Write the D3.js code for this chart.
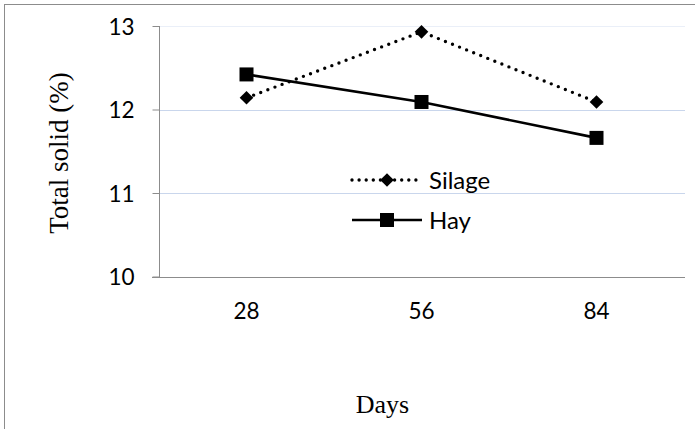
<!DOCTYPE html>
<html>
<head>
<meta charset="utf-8">
<script src="https://cdn.jsdelivr.net/npm/d3@7"></script>
<style>
    body { margin: 0; background: #fff; }
    svg { display: block; }
    .tick text { font-family: Lato, "Noto Sans", sans-serif; font-size: 22.5px; fill: #000; }
    .legend text { font-family: Lato, "Noto Sans", sans-serif; font-size: 24px; fill: #000; }
    .title { font-family: "Liberation Serif", "Times New Roman", serif; font-size: 26px; fill: #000; }
</style>
</head>
<body>
<div id="chart"></div>
<script>
// data
const days = ["28", "56", "84"];
const silage = [12.14, 12.93, 12.09];
const hay = [12.42, 12.09, 11.66];
const yTicks = [10, 11, 12, 13];
const seriesNames = ["Silage", "Hay"];

const width = 695, height = 429;
const plotLeft = 159, plotRight = 685, plotTop = 26, plotBottom = 276.5;

let svg = d3.select("#chart")
    .append("svg")
    .attr("width", width)
    .attr("height", height);

// outer frame (cut off at right and bottom)
svg.append("rect")
    .attr("x", 4.5)
    .attr("y", 4.5)
    .attr("width", width + 20)
    .attr("height", height + 20)
    .attr("fill", "none")
    .attr("stroke", "#8c8c8c")
    .attr("stroke-width", 1);

let x = d3.scaleBand()
    .domain(days)
    .range([plotLeft, plotRight - 1]);

let y = d3.scaleLinear()
    .domain([10, 13])
    .range([plotBottom, plotTop]);

let cx = d => x(d) + x.bandwidth() / 2;

//gridlines
svg.append("g")
    .selectAll("line")
    .data(yTicks.filter(d => d > 10))
    .enter()
    .append("line")
    .attr("x1", plotLeft)
    .attr("x2", plotRight)
    .attr("y1", d => Math.round(y(d)) + 0.5)
    .attr("y2", d => Math.round(y(d)) + 0.5)
    .attr("stroke", d => d === 13 ? "#eaeff8" : "#c9d6ec")
    .attr("stroke-width", 1);

//y axis
let yAxis = svg.append("g")
    .attr("transform", "translate(" + (plotLeft + 0.5) + ",0)")
    .call(d3.axisLeft(y).tickValues(yTicks).tickSize(7).tickPadding(18).tickFormat(d3.format("d")));
yAxis.select(".domain").attr("stroke", "#8c8c8c").attr("d", "M0," + plotTop + "V" + (Math.round(plotBottom) + 0.5));
yAxis.selectAll(".tick line").attr("stroke", "#8c8c8c");
yAxis.selectAll(".tick text").attr("dy", "0.36em");

//x axis
let xAxis = svg.append("g")
    .attr("transform", "translate(0," + (Math.round(plotBottom) + 0.5) + ")")
    .call(d3.axisBottom(x).tickSize(0).tickPadding(26));
xAxis.select(".domain").attr("stroke", "#8c8c8c").attr("d", "M" + (plotLeft - 7) + ",0H" + plotRight);

//lines
let line = d3.line()
    .x((d, i) => cx(days[i]))
    .y(d => y(d));

svg.append("path")
    .datum(hay)
    .attr("d", line)
    .attr("fill", "none")
    .attr("stroke", "#000")
    .attr("stroke-width", 2.6);

svg.append("path")
    .datum(silage)
    .attr("d", line)
    .attr("fill", "none")
    .attr("stroke", "#000")
    .attr("stroke-width", 3.4)
    .attr("stroke-linecap", "round")
    .attr("stroke-dasharray", "0 7.6");

//markers
const sq = 14, dm = 6.8;
let diamond = (px, py) => "M" + px + "," + (py - dm) + "L" + (px + dm) + "," + py +
    "L" + px + "," + (py + dm) + "L" + (px - dm) + "," + py + "Z";

svg.append("g")
    .selectAll("rect")
    .data(hay)
    .enter()
    .append("rect")
    .attr("x", (d, i) => cx(days[i]) - sq / 2)
    .attr("y", d => y(d) - sq / 2)
    .attr("width", sq)
    .attr("height", sq)
    .attr("fill", "#000");

svg.append("g")
    .selectAll("path")
    .data(silage)
    .enter()
    .append("path")
    .attr("d", (d, i) => diamond(cx(days[i]), y(d)))
    .attr("fill", "#000");

//legend
let legend = svg.append("g").attr("class", "legend");
let lx1 = 352, lx2 = 422, lmid = 387;
let legendY = [180, 220];

legend.append("line")
    .attr("x1", lx1).attr("x2", lx2)
    .attr("y1", legendY[0]).attr("y2", legendY[0])
    .attr("stroke", "#000")
    .attr("stroke-width", 3.4)
    .attr("stroke-linecap", "round")
    .attr("stroke-dasharray", "0 7.1");
legend.append("path")
    .attr("d", diamond(lmid, legendY[0]))
    .attr("fill", "#000");

legend.append("line")
    .attr("x1", lx1).attr("x2", lx2)
    .attr("y1", legendY[1]).attr("y2", legendY[1])
    .attr("stroke", "#000")
    .attr("stroke-width", 2.6);
legend.append("rect")
    .attr("x", lmid - sq / 2)
    .attr("y", legendY[1] - sq / 2)
    .attr("width", sq)
    .attr("height", sq)
    .attr("fill", "#000");

legend.selectAll("text")
    .data(seriesNames)
    .enter()
    .append("text")
    .attr("x", 429)
    .attr("y", (d, i) => legendY[i])
    .attr("dy", "0.36em")
    .text(d => d);

//axis titles
svg.append("text")
    .attr("class", "title")
    .attr("text-anchor", "middle")
    .attr("transform", "translate(68,153) rotate(-90)")
    .style("font-size", "27px")
    .text("Total solid (%)");

svg.append("text")
    .attr("class", "title")
    .attr("text-anchor", "middle")
    .attr("x", 382.5)
    .attr("y", 413)
    .text("Days");
</script>
</body>
</html>
